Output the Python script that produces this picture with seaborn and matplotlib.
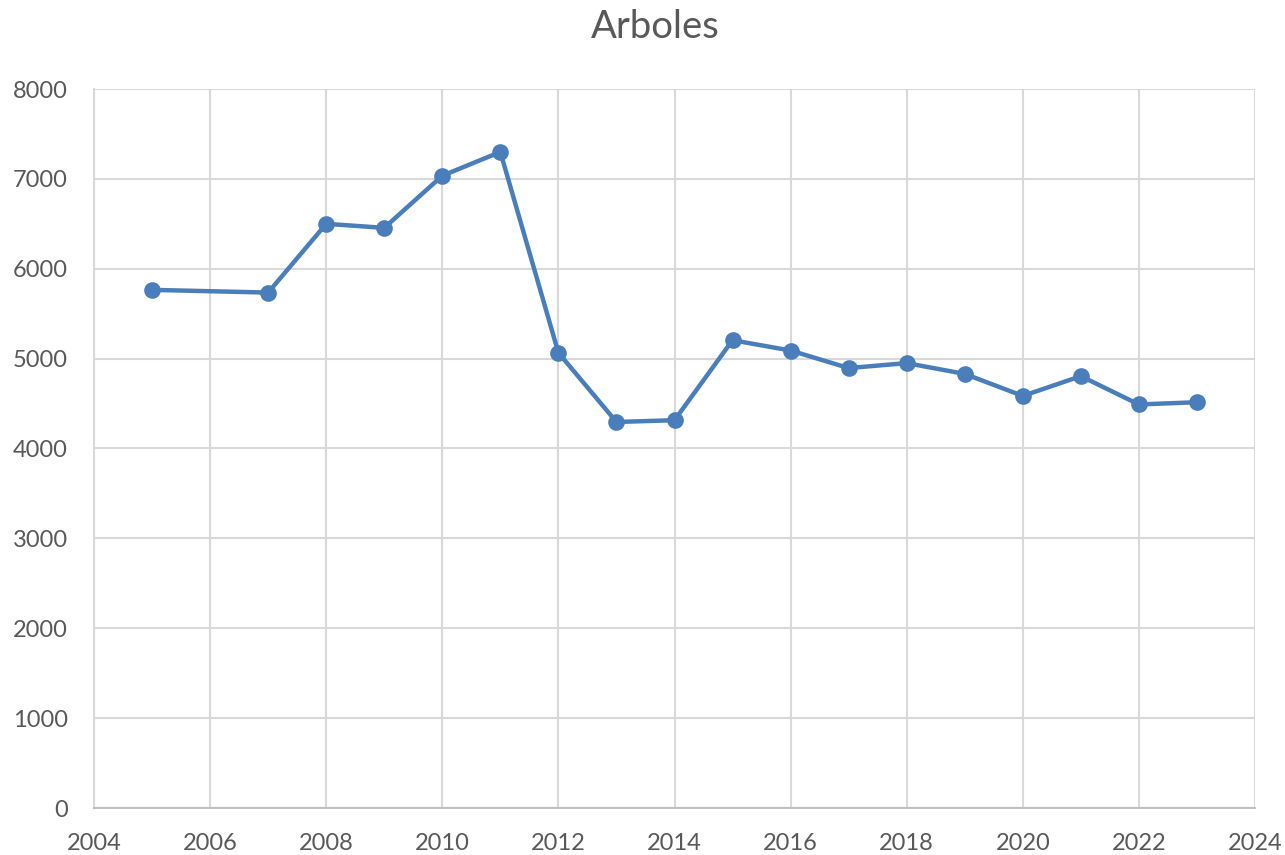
import matplotlib
matplotlib.use("Agg")
import matplotlib.pyplot as plt
import seaborn as sns
import pandas as pd

years = [2005, 2007, 2008, 2009, 2010, 2011, 2012, 2013, 2014, 2015,
         2016, 2017, 2018, 2019, 2020, 2021, 2022, 2023]
arboles = [5765, 5735, 6500, 6455, 7035, 7300, 5065, 4295, 4315, 5205,
           5090, 4895, 4950, 4830, 4585, 4805, 4490, 4515]

df = pd.DataFrame({"year": years, "arboles": arboles})

sns.set_style("white")
plt.rcParams["font.family"] = ["Lato", "DejaVu Sans"]
text_col = "#595959"

fig = plt.figure(figsize=(12.85, 8.55), dpi=100)
ax = fig.add_axes([94 / 1285, 1 - 808 / 855, (1255 - 94) / 1285, (808 - 89) / 855])

sns.lineplot(data=df, x="year", y="arboles", ax=ax, color="#4a7ebb",
             linewidth=3.2, marker="o", markersize=12, markeredgewidth=0)

ax.set_xlim(2004, 2024)
ax.set_ylim(0, 8000)
ax.set_xticks(range(2004, 2025, 2))
ax.set_yticks(range(0, 8001, 1000))
ax.grid(True, color="#d9d9d9", linewidth=1.5)
ax.set_axisbelow(True)
for s in ["top", "right"]:
    ax.spines[s].set_visible(False)
ax.spines["left"].set_color("#d9d9d9")
ax.spines["left"].set_linewidth(1.5)
ax.spines["bottom"].set_color("#bfbfbf")
ax.spines["bottom"].set_linewidth(1.5)
ax.tick_params(axis="both", length=0, labelsize=17, colors=text_col)
ax.tick_params(axis="y", pad=19)
ax.tick_params(axis="x", pad=18)
ax.set_xlabel("")
ax.set_ylabel("")
fig.suptitle("Arboles", x=0.51, y=0.99, fontsize=27.5, color=text_col)

fig.savefig("out.png", dpi=100)
